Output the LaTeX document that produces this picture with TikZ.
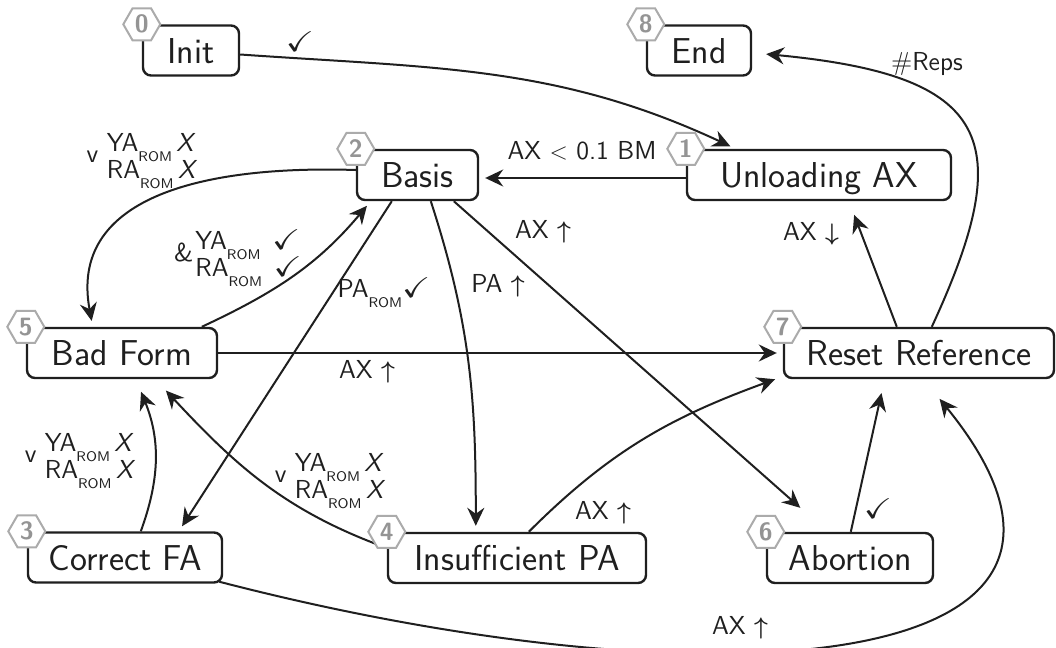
\documentclass[tikz,border=0pt]{standalone}
\usepackage{amsmath,amssymb}
\usetikzlibrary{arrows.meta,shapes.geometric}
\newcommand{\romsub}{\smash{\raisebox{-4.6pt}{\fontsize{7}{7}\selectfont ROM}}}
\newcommand{\ck}{\scalebox{1.3}[1.1]{$\checkmark$}}
\newcommand{\upar}{$\boldsymbol{\uparrow}$}
\newcommand{\dnar}{$\boldsymbol{\downarrow}$}
\newcommand{\twolbl}[3]{#1\begin{tabular}{@{}l@{}}YA\romsub\,#2\\RA\romsub\,#3\end{tabular}}
\begin{document}
\begin{tikzpicture}[x=0.5pt,y=-0.5pt,
  box/.style={draw=black!88,line width=1.2pt,rounded corners=4pt,inner sep=0pt,
    minimum height=25pt,text height=12.5pt,text depth=0pt,text=black!88,
    font=\fontsize{18}{20}\selectfont\sffamily},
  hexa/.style={regular polygon,regular polygon sides=6,draw=black!33,fill=white,
    line width=1pt,inner sep=0pt,minimum size=18.5pt,text=black!42,
    font=\fontsize{12.5}{13}\selectfont\sffamily\bfseries},
  edge/.style={draw=black!88,line width=1pt,-{Stealth[length=9pt,width=8.5pt,inset=3pt]},shorten >=3pt},
  lbl/.style={inner sep=0pt,text=black!88,font=\fontsize{13}{13.5}\selectfont\sffamily}
]
\useasboundingbox (0,0) rectangle (1056,648);

% boxes
\node[box,minimum width=48pt]  (init)  at (191,50.5)  {Init};
\node[box,minimum width=52pt]  (end)   at (699,50.5)  {End};
\node[box,minimum width=60.5pt](basis) at (417.5,175) {Basis};
\node[box,minimum width=132pt] (unl)   at (819,175)   {Unloading AX};
\node[box,minimum width=95pt]  (bad)   at (122,353)   {Bad Form};
\node[box,minimum width=135pt] (reset) at (919,353)   {Reset Reference};
\node[box,minimum width=97pt]  (cfa)   at (125,557.5) {Correct FA};
\node[box,minimum width=129pt] (ipa)   at (517,558)   {Insufficient PA};
\node[box,minimum width=83pt]  (abo)   at (850,558)   {Abortion};

% connectors
\draw[edge] ([shift={(0,4)}]init.east) to[out=-4,in=155] ([shift={(50,0)}]unl.north west);
\draw[edge] ([shift={(0,3)}]unl.west) -- ([shift={(0,3)}]basis.east);
\draw[edge] ([shift={(0,-5)}]basis.west) .. controls +(-157,-5) and +(-24,-128) .. ([shift={(67,0)}]bad.north west);
\draw[edge] ([shift={(176,0)}]bad.north west) to[out=25,in=-130] ([shift={(15,0)}]basis.south west);
\draw[edge] ([shift={(36,0)}]basis.south west) -- ([shift={(152,0)}]cfa.north west);
\draw[edge] ([shift={(75,0)}]basis.south west) to[out=-72,in=90] ([shift={(89,0)}]ipa.north west);
\draw[edge] ([shift={(98,0)}]basis.south west) -- ([shift={(39,-20)}]abo.north west);
\draw[edge] (bad.east) -- (reset.west);
\draw[edge] ([shift={(114,0)}]cfa.north west) to[out=70,in=-68] ([shift={(113,7)}]bad.south west);
\draw[edge] ([shift={(0,-10)}]ipa.west) to[out=160,in=-47] ([shift={(136,7)}]bad.south west);
\draw[edge] ([shift={(142,0)}]ipa.north west) to[out=45,in=-160] ([shift={(-2,-2)}]reset.south west);
\draw[edge] ([shift={(85,0)}]abo.north west) -- ([shift={(100,8)}]reset.south west);
\draw[edge] ([shift={(-4,-2)}]cfa.south east) .. controls +(482,125) and +(233,287) .. ([shift={(153,15)}]reset.south west);
\draw[edge] ([shift={(114,0)}]reset.north west) -- ([shift={(33,8)}]unl.south);
\draw[edge] ([shift={(149,0)}]reset.north west) .. controls +(87,-188) and +(231,22) .. ([shift={(8,3)}]end.east);

% labels
\node[lbl] (l1)  at (300,42)  {\ck};
\node[lbl] (l2)  at (582,151) {AX $<$ 0.1 BM};
\node[lbl] (l3)  at (142,160) {\twolbl{\raisebox{2pt}{v}\ }{\textsl{X}}{\textsl{X}}};
\node[lbl] (l4)  at (238,258) {\twolbl{\raisebox{1.5pt}{\&}\kern1pt}{\;\smash{\ck}}{\;\smash{\ck}}};
\node[lbl] (l5)  at (384,288) {PA\romsub\ck};
\node[lbl] (l6)  at (498,286) {PA \upar};
\node[lbl] (l7)  at (543,232) {AX \upar};
\node[lbl] (l8)  at (367,372) {AX \upar};
\node[lbl] (l9)  at (80,460)  {\twolbl{\raisebox{2pt}{v}\ }{\textsl{X}}{\textsl{X}}};
\node[lbl] (l10) at (330,480) {\twolbl{\raisebox{2pt}{v}\ }{\textsl{X}}{\textsl{X}}};
\node[lbl] (l11) at (603,513) {AX \upar};
\node[lbl] (l12) at (878,509) {\ck};
\node[lbl] (l13) at (740,628) {AX \upar};
\node[lbl] (l14) at (811,234) {AX \dnar};
\node[lbl] (l15) at (927,64)  {\#Reps};

% number hexagons
\node[hexa] (h0) at (init.north west)  {0};
\node[hexa] (h8) at (end.north west)   {8};
\node[hexa] (h2) at (basis.north west) {2};
\node[hexa] (h1) at (unl.north west)   {1};
\node[hexa] (h5) at (bad.north west)   {5};
\node[hexa] (h7) at (reset.north west) {7};
\node[hexa] (h3) at (cfa.north west)   {3};
\node[hexa] (h4) at (ipa.north west)   {4};
\node[hexa] (h6) at (abo.north west)   {6};
\end{tikzpicture}
\end{document}
